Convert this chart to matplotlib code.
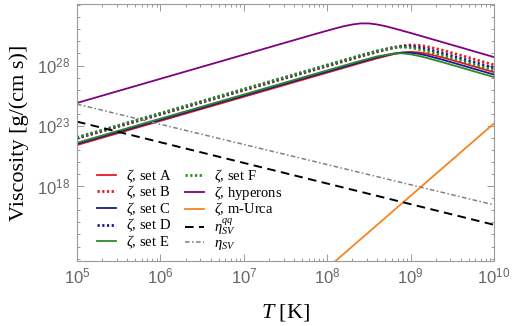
import numpy as np
import matplotlib
matplotlib.use("Agg")
import matplotlib.pyplot as plt
from matplotlib.ticker import FixedLocator, FixedFormatter, NullFormatter

plt.rcParams['font.family'] = ['Liberation Serif', 'DejaVu Serif']
plt.rcParams['mathtext.fontset'] = 'custom'
plt.rcParams['mathtext.rm'] = 'Liberation Serif'
plt.rcParams['mathtext.it'] = 'Liberation Serif:italic'
plt.rcParams['mathtext.sf'] = 'Liberation Sans'

# log10(T [K]) grid shared by the quark-set bulk-viscosity curves
logT = [5, 6, 7, 7.5, 7.8, 8.0, 8.2, 8.4, 8.6, 8.8, 8.9, 9.0, 9.1, 9.2, 9.4, 9.6, 10]

# log10 viscosity values
zeta_A = [21.41, 23.41, 25.41, 26.41, 27.01, 27.41, 27.81, 28.21, 28.60, 28.95, 29.08, 29.13, 29.09, 28.98, 28.64, 28.25, 27.45]
zeta_B = [21.95, 23.95, 25.95, 26.95, 27.55, 27.95, 28.35, 28.75, 29.14, 29.50, 29.63, 29.70, 29.67, 29.57, 29.24, 28.85, 28.05]
zeta_C = [21.50, 23.50, 25.50, 26.50, 27.10, 27.49, 27.89, 28.29, 28.68, 28.99, 29.07, 29.06, 28.97, 28.82, 28.45, 28.05, 27.25]
zeta_D = [22.00, 24.00, 26.00, 27.00, 27.60, 28.00, 28.40, 28.80, 29.18, 29.50, 29.59, 29.59, 29.50, 29.36, 28.99, 28.60, 27.80]
zeta_E = [21.60, 23.60, 25.60, 26.60, 27.20, 27.60, 28.00, 28.39, 28.76, 29.00, 29.01, 28.93, 28.79, 28.62, 28.24, 27.84, 27.04]
zeta_F = [22.05, 24.05, 26.05, 27.05, 27.65, 28.05, 28.45, 28.85, 29.22, 29.49, 29.53, 29.48, 29.35, 29.19, 28.81, 28.41, 27.61]

logT_hyp = [5, 6, 7, 7.5, 7.8, 8.0, 8.1, 8.2, 8.3, 8.4, 8.5, 8.6, 8.7, 8.8, 8.9, 9.0, 9.1, 9.2, 9.6, 10]
zeta_hyp = [24.90, 26.90, 28.90, 29.90, 30.50, 30.89, 31.08, 31.26, 31.40, 31.49, 31.49, 31.40, 31.26, 31.08, 30.89, 30.70, 30.50, 30.30, 29.50, 28.70]

logT_urca = [8.0, 9.0, 10.0]
zeta_urca = [11.2, 17.2, 23.2]

logT_eta = [5, 10]
eta_qq = [23.35, 14.8]
eta_sv = [24.8, 16.45]

labels = [r'$\zeta$, set A', r'$\zeta$, set B', r'$\zeta$, set C', r'$\zeta$, set D',
          r'$\zeta$, set E', r'$\zeta$, set F', r'$\zeta$, hyperons', r'$\zeta$, m-Urca',
          r'$\eta_{SV}^{qq}$', r'$\eta_{SV}$']

xtick_vals = [5, 6, 7, 8, 9, 10]
xtick_labels = [r'$\mathsf{10^{5}}$', r'$\mathsf{10^{6}}$', r'$\mathsf{10^{7}}$',
                r'$\mathsf{10^{8}}$', r'$\mathsf{10^{9}}$', r'$\mathsf{10^{10}}$']
ytick_vals = [18, 23, 28]
ytick_labels = [r'$\mathsf{10^{18}}$', r'$\mathsf{10^{23}}$', r'$\mathsf{10^{28}}$']

red = '#e41a1c'
blue = '#1a1a8c'
green = '#2a8a2a'
purple = '#800080'
orange = '#f5851f'

fig = plt.figure(figsize=(5.12, 3.26), dpi=100)
ax = fig.add_axes([77/512, 1-261/326, 417/512, 257/326])

T = 10.0**np.array(logT)
dot = (0.8, 0.9)
lw_s = 1.3
lw_d = 2.0
ax.plot(T, 10.0**np.array(zeta_A), color=red, lw=lw_s, label=labels[0])
ax.plot(T, 10.0**np.array(zeta_B), color=red, lw=lw_d, dashes=dot, label=labels[1])
ax.plot(T, 10.0**np.array(zeta_C), color=blue, lw=lw_s, label=labels[2])
ax.plot(T, 10.0**np.array(zeta_D), color=blue, lw=lw_d, dashes=dot, label=labels[3])
ax.plot(T, 10.0**np.array(zeta_E), color=green, lw=lw_s, label=labels[4])
ax.plot(T, 10.0**np.array(zeta_F), color=green, lw=lw_d, dashes=dot, label=labels[5])
ax.plot(10.0**np.array(logT_hyp), 10.0**np.array(zeta_hyp), color=purple, lw=lw_s, label=labels[6])
ax.plot(10.0**np.array(logT_urca), 10.0**np.array(zeta_urca), color=orange, lw=lw_s, label=labels[7])
ax.plot(10.0**np.array(logT_eta), 10.0**np.array(eta_qq), color='black', lw=1.4, dashes=(4.4, 2.8), label=labels[8])
ax.plot(10.0**np.array(logT_eta), 10.0**np.array(eta_sv), color='#808080', lw=1.1, dashes=(3, 1.6, 1, 1.6), label=labels[9])

ax.set_xscale('log')
ax.set_yscale('log')
ax.set_xlim(1e5, 1e10)
ax.set_ylim(10**11.8, 10**33.1)

ax.xaxis.set_major_locator(FixedLocator([10.0**v for v in xtick_vals]))
ax.xaxis.set_major_formatter(FixedFormatter(xtick_labels))
minx = [m * 10.0**d for d in range(5, 10) for m in range(2, 10)]
ax.xaxis.set_minor_locator(FixedLocator(minx))
ax.xaxis.set_minor_formatter(NullFormatter())

ax.yaxis.set_major_locator(FixedLocator([10.0**v for v in ytick_vals]))
ax.yaxis.set_major_formatter(FixedFormatter(ytick_labels))
miny = [10.0**d for d in range(12, 34) if d not in ytick_vals]
ax.yaxis.set_minor_locator(FixedLocator(miny))
ax.yaxis.set_minor_formatter(NullFormatter())

gray = '#9a9a9a'
for s in ax.spines.values():
    s.set_color(gray)
    s.set_linewidth(0.8)
ax.tick_params(which='both', direction='in', top=True, right=True, color=gray, width=0.7)
ax.tick_params(which='major', length=5, labelsize=12, labelcolor='#666666', pad=5)
ax.tick_params(which='minor', length=2.5)

ax.set_xlabel(r'$T\ [\mathrm{K}]$', fontsize=16, labelpad=10)
ax.set_ylabel(r'Viscosity [g/(cm s)]', fontsize=16, labelpad=6)

leg = ax.legend(ncol=2, loc='upper left', bbox_to_anchor=(0.047, 0.365), frameon=False,
                fontsize=10.5, handlelength=1.3, handletextpad=0.7, columnspacing=0.95,
                labelspacing=-0.05, borderpad=0, borderaxespad=0)

fig.savefig('out.png', dpi=100)
